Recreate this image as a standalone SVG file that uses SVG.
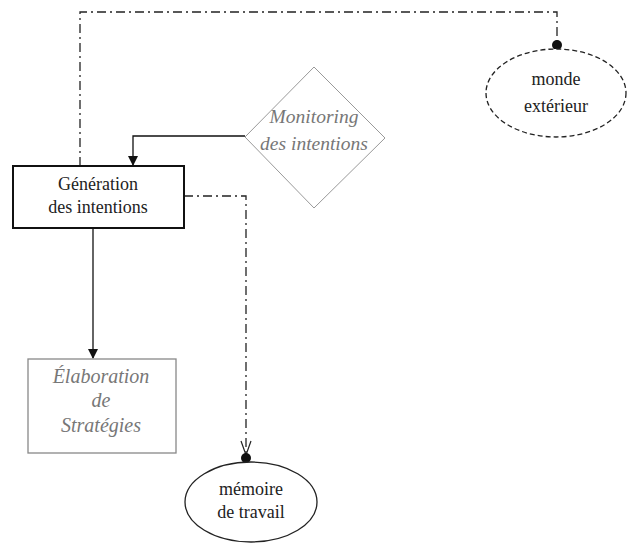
<svg xmlns="http://www.w3.org/2000/svg" width="628" height="544" viewBox="0 0 628 544">
<style>
text{font-family:'Liberation Serif','DejaVu Serif',serif}
.t{font-size:18px;fill:#222;text-anchor:middle}
.ti{font-size:19.5px;font-style:italic;fill:#777;text-anchor:middle}
.dd{fill:none;stroke:#222;stroke-width:1.3;stroke-dasharray:9 4 2 4}
.sl{fill:none;stroke:#111;stroke-width:1.3}
</style>
<defs>
<marker id="tri" markerWidth="10" markerHeight="10" refX="9" refY="5" orient="auto" markerUnits="userSpaceOnUse">
<path d="M0,0 L10,5 L0,10 z" fill="#111"/>
</marker>
</defs>
<rect width="628" height="544" fill="#fff"/>
<g id="connectors">
<path class="dd" d="M80,166 V12 H557 V42"/>
<circle cx="557" cy="45" r="5" fill="#111"/>
<path class="sl" d="M245,136 H133 V165" marker-end="url(#tri)"/>
<path class="sl" d="M93,228 V358" marker-end="url(#tri)"/>
<path class="dd" d="M184,196 H246 V455"/>
<path d="M241,441 L246,455 L251,441" fill="none" stroke="#222" stroke-width="1.2"/>
<circle cx="246" cy="458" r="5" fill="#111"/>
</g>
<g id="monde">
<ellipse cx="556" cy="93" rx="70" ry="44" fill="#fff" stroke="#222" stroke-width="1.3" stroke-dasharray="5 3"/>
<text class="t" x="556" y="85" font-family="Liberation Serif, serif">monde</text>
<text class="t" x="556" y="112" font-family="Liberation Serif, serif">extérieur</text>
</g>
<g id="monitoring">
<path d="M314,67 L385,138 L314,208 L245,137 z" fill="#fff" stroke="#999" stroke-width="1"/>
<text class="ti" x="314" y="123" font-family="Liberation Serif, serif">Monitoring</text>
<text class="ti" x="314" y="150" font-family="Liberation Serif, serif">des intentions</text>
</g>
<g id="generation">
<rect x="13" y="166" width="171" height="62" fill="#fff" stroke="#111" stroke-width="2"/>
<text class="t" x="98" y="190" font-family="Liberation Serif, serif">Génération</text>
<text class="t" x="98" y="213" font-family="Liberation Serif, serif">des intentions</text>
</g>
<g id="elaboration">
<rect x="28" y="359" width="148" height="94" fill="#fff" stroke="#888" stroke-width="1.3"/>
<text class="ti" x="101" y="383" font-family="Liberation Serif, serif" style="font-size:20px">Élaboration</text>
<text class="ti" x="101" y="407" font-family="Liberation Serif, serif" style="font-size:20px">de</text>
<text class="ti" x="101" y="432" font-family="Liberation Serif, serif" style="font-size:20px">Stratégies</text>
</g>
<g id="memoire">
<ellipse cx="251" cy="502" rx="66" ry="40" fill="#fff" stroke="#222" stroke-width="1.3"/>
<text class="t" x="251" y="495" font-family="Liberation Serif, serif">mémoire</text>
<text class="t" x="251" y="518" font-family="Liberation Serif, serif">de travail</text>
</g>
</svg>
